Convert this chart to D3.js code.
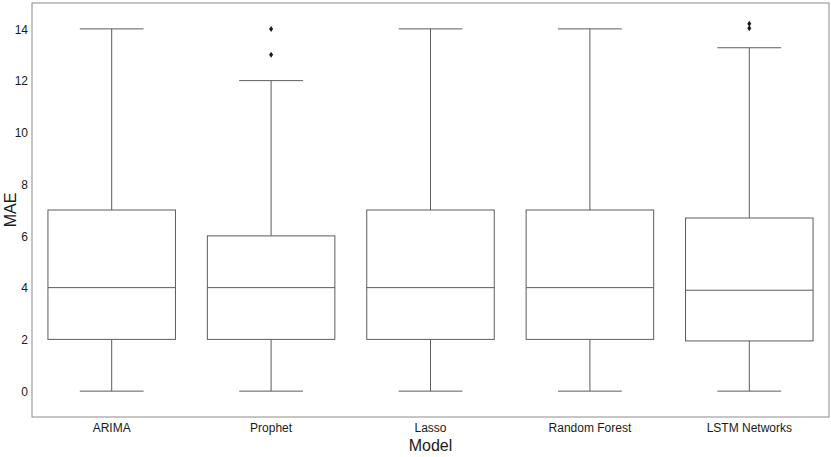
<!DOCTYPE html>
<html>
<head>
<meta charset="utf-8">
<script src="https://cdn.jsdelivr.net/npm/d3@7"></script>
<style>
  body { margin: 0; background: #fff; }
  text { font-family: "Liberation Sans", Arial, sans-serif; fill: #1a1a1a; }
</style>
</head>
<body>
<svg id="chart" width="831" height="457"></svg>
<script>
// box stats
var models = ["ARIMA", "Prophet", "Lasso", "Random Forest", "LSTM Networks"];
var whiskLo = [0, 0, 0, 0, 0];
var q1 = [2, 2, 2, 2, 1.94];
var median = [4, 4, 4, 4, 3.9];
var q3 = [7, 6, 7, 7, 6.69];
var whiskHi = [14, 12, 14, 14, 13.27];
var outliers = [[], [13, 14], [], [], [14.02, 14.2]];
var yTicks = [0, 2, 4, 6, 8, 10, 12, 14];

var svg = d3.select("#chart");
var m = { left: 32, top: 3, right: 2, bottom: 40 };
var W = 831, H = 457;

var x = d3.scaleBand().domain(models).range([m.left, W - m.right]).padding(0);
var y = d3.scaleLinear().domain([-1, 15]).range([H - m.bottom, m.top]);

var boxColor = "#5c5c5c";
var boxW = x.bandwidth() * 0.8;

// y axis
var yAxis = svg.append("g").attr("transform", "translate(" + m.left + ",0)")
  .call(d3.axisLeft(y).tickValues(yTicks).tickSize(0).tickPadding(4));
yAxis.select(".domain").remove();
yAxis.selectAll("text").style("font-size", "12px").attr("dy", "0.35em");

// x axis
var xAxis = svg.append("g").attr("transform", "translate(0," + (H - m.bottom) + ")")
  .call(d3.axisBottom(x).tickSize(0).tickPadding(6));
xAxis.select(".domain").remove();
xAxis.selectAll("text").style("font-size", "12px");

var data = models.map(function(d, i) {
  return { name: d, lo: whiskLo[i], q1: q1[i], med: median[i], q3: q3[i], hi: whiskHi[i], out: outliers[i] };
});

var g = svg.selectAll(".box").data(data).enter().append("g").attr("class", "box")
  .attr("transform", function(d) { return "translate(" + (x(d.name) + x.bandwidth() / 2) + ",0)"; });

// whiskers
g.append("line").attr("x1", 0).attr("x2", 0)
  .attr("y1", function(d) { return y(d.q3); }).attr("y2", function(d) { return y(d.hi); })
  .attr("stroke", boxColor);
g.append("line").attr("x1", 0).attr("x2", 0)
  .attr("y1", function(d) { return y(d.q1); }).attr("y2", function(d) { return y(d.lo); })
  .attr("stroke", boxColor);
// caps
g.append("line").attr("x1", -boxW / 4).attr("x2", boxW / 4)
  .attr("y1", function(d) { return y(d.hi); }).attr("y2", function(d) { return y(d.hi); })
  .attr("stroke", boxColor);
g.append("line").attr("x1", -boxW / 4).attr("x2", boxW / 4)
  .attr("y1", function(d) { return y(d.lo); }).attr("y2", function(d) { return y(d.lo); })
  .attr("stroke", boxColor);
// box
g.append("rect").attr("x", -boxW / 2).attr("width", boxW)
  .attr("y", function(d) { return y(d.q3); })
  .attr("height", function(d) { return y(d.q1) - y(d.q3); })
  .attr("fill", "#fff").attr("stroke", boxColor);
// median
g.append("line").attr("x1", -boxW / 2).attr("x2", boxW / 2)
  .attr("y1", function(d) { return y(d.med); }).attr("y2", function(d) { return y(d.med); })
  .attr("stroke", boxColor);
// fliers as small diamonds
g.selectAll(".flier").data(function(d) { return d.out; }).enter().append("path")
  .attr("class", "flier")
  .attr("d", function(v) {
    var cy = y(v);
    return "M0," + (cy - 3) + "L2," + cy + "L0," + (cy + 3) + "L-2," + cy + "Z";
  })
  .attr("fill", "#1a1a1a");

// frame
svg.append("rect").attr("x", m.left).attr("y", m.top)
  .attr("width", W - m.right - m.left).attr("height", H - m.bottom - m.top)
  .attr("fill", "none").attr("stroke", "#8c8c8c");

// axis labels
svg.append("text").attr("x", (m.left + W - m.right) / 2).attr("y", 451)
  .attr("text-anchor", "middle").style("font-size", "16px").text("Model");
svg.append("text").attr("transform", "translate(16," + ((m.top + H - m.bottom) / 2) + ") rotate(-90)")
  .attr("text-anchor", "middle").style("font-size", "16px").text("MAE");
</script>
</body>
</html>
